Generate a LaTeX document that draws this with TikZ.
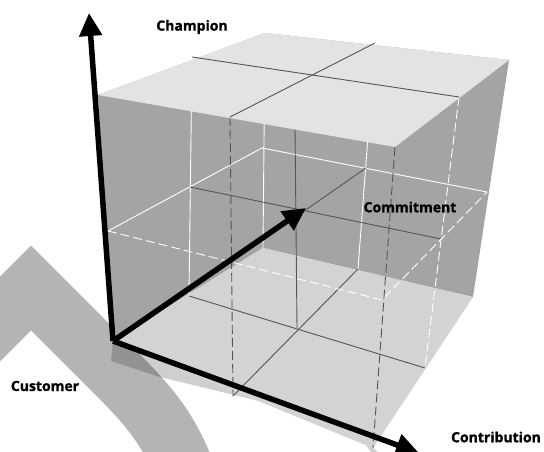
\documentclass[tikz,border=0pt]{standalone}
\usepackage{fontspec}
\setmainfont{Open Sans}
\newfontfamily\axisfont{Open Sans}[BoldFeatures={FakeBold=1.2}]
\usetikzlibrary{arrows.meta}
\definecolor{lidc}{RGB}{227,227,227}
\definecolor{wallc}{RGB}{164,164,164}
\definecolor{floorc}{RGB}{211,211,211}
\definecolor{bandc}{RGB}{180,180,180}
\definecolor{rulec}{RGB}{85,85,85}

\begin{document}
\begin{tikzpicture}[x=1pt,y=-1pt,
  axisarrow/.style={line width=5.5pt,-{Triangle[length=23pt,width=22pt]}},
  axislabel/.style={font=\axisfont\bfseries\fontsize{14}{16}\selectfont,inner sep=0pt},
  backline/.style={white,line width=0.9pt},
  innerline/.style={rulec,line width=0.9pt},
  frontwhite/.style={white,line width=0.9pt,dash pattern=on 9pt off 4pt},
  frontdark/.style={rulec,line width=0.9pt,dash pattern=on 9pt off 4pt},
]
\useasboundingbox (0,0) rectangle (544,452);

% cube corners: top face and floor
\coordinate (A)  at (98,95);
\coordinate (B)  at (265,33);
\coordinate (C)  at (509,60);
\coordinate (D)  at (395,147);
\coordinate (O)  at (113,341);
\coordinate (Bb) at (263,248);
\coordinate (Cb) at (473,297);
\coordinate (Db) at (373,448);
% midpoints of the top edges
\coordinate (mAB) at (192,57);
\coordinate (mBC) at (375,43);
\coordinate (mCD) at (459,97);
\coordinate (mDA) at (230,117);
% midpoints of the floor edges
\coordinate (mOB) at (189,296);
\coordinate (mBC2) at (358,269);
\coordinate (mCD2) at (425,368);
\coordinate (mDO) at (233,396);
% half height on the vertical edges
\coordinate (hA) at (108,231);
\coordinate (hB) at (262,148);
\coordinate (hC) at (487,192);
\coordinate (hD) at (382,300);
% centres of the walls
\coordinate (cL)  at (190,187);
\coordinate (cR)  at (366,168);
\coordinate (cF)  at (231,262);
\coordinate (cFR) at (441,239);
% central vertical axis
\coordinate (vTop) at (295,126);
\coordinate (vBot) at (297,328);
% axis tips
\coordinate (tipUp)    at (89,13);
\coordinate (tipDepth) at (306,208);
\coordinate (tipRight) at (419,453);

% wide grey band behind everything
\draw[bandc,line width=60pt,line join=miter,miter limit=10]
  (-45,364) -- (31,288) -- (118,375) .. controls (148,405) and (170,430) .. (186,475);

% soft shadow below the floor edge
\fill[black,opacity=0.19] (O) -- (111,361) -- (160,377) -- (300,411) -- (362,440) -- (371,452) -- (378,452) -- (Db) -- cycle;

% back walls and floor
\fill[wallc] (A) -- (B) -- (C) -- (Cb) -- (Bb) -- (O) -- cycle;
\fill[floorc] (O) -- (Bb) -- (Cb) -- (Db) -- cycle;

% back wall grid
\draw[backline] (B) -- (Bb);
\draw[backline] (mAB) -- (mOB);
\draw[backline] (mBC) -- (mBC2);
\draw[backline] (hA) -- (hB) -- (hC);

% floor grid
\draw[innerline] (mOB) -- (mCD2);
\draw[innerline] (mDO) -- (mBC2);

% inner half-height plane and vertical axis
\draw[innerline] (cL) -- (cFR);
\draw[innerline] (cF) -- (cR);
\draw[innerline] (vTop) -- (vBot);

% front walls (transparent), dashed
\draw[frontwhite] (hA) -- (hD) -- (hC);
\draw[frontwhite] (mCD) -- (mCD2);
\draw[frontdark] (mDA) -- (mDO);
\draw[frontdark] (D) -- (Db);

% lid
\fill[lidc] (A) -- (B) -- (C) -- (D) -- cycle;
\draw[innerline] (mAB) -- (mCD);
\draw[innerline] (mBC) -- (mDA);

% axes
\draw[axisarrow] (O) -- (tipUp);
\draw[axisarrow] (O) -- (tipDepth);
\draw[axisarrow] (O) -- (tipRight);

% axis names
\node[axislabel] (champion) at (192,27) {Champion};
\node[axislabel] (commitment) at (410,207) {Commitment};
\node[axislabel] (customer) at (45,386) {Customer};
\node[axislabel] (contribution) at (496,437) {Contribution};
\end{tikzpicture}
\end{document}
